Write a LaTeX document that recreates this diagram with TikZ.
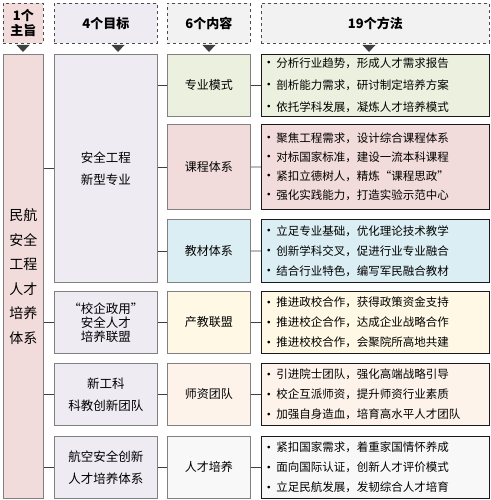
\documentclass[tikz,border=0pt]{standalone}
\usepackage{fontspec}
\setmainfont{Noto Sans CJK SC}
\usepackage{xcolor}
\usepackage{tikz}
\usetikzlibrary{positioning,calc}
\definecolor{pinkbg}{HTML}{F2DCDB}
\definecolor{goalbg}{HTML}{EEEBF2}
\definecolor{greenbg}{HTML}{EBF1DE}
\definecolor{bluebg}{HTML}{DBEEF3}
\definecolor{yellowbg}{HTML}{FEF8E4}
\definecolor{peachbg}{HTML}{FDF3EB}
\definecolor{lightbg}{HTML}{F8F8F8}
\definecolor{headbg}{HTML}{F2F2F2}
\newcommand{\pt}{\makebox[9pt][l]{\hspace{1.5pt}\makebox[0pt][c]{\raisebox{-0.3pt}{\fontsize{13}{13}\selectfont •}}}}

\begin{document}
\begin{tikzpicture}[
    x=1pt, y=-1pt,
    header/.style={rectangle, draw=black!70, dashed, line width=0.7pt,
                   anchor=north west, inner sep=0pt, minimum height=40pt,
                   font=\fontsize{13}{15}\selectfont\bfseries, align=center},
    mainbox/.style={rectangle, draw=black!50, fill=pinkbg, line width=0.8pt,
                    anchor=north west, inner sep=0pt, minimum width=40pt,
                    font=\fontsize{14}{24.5}\selectfont, align=center},
    goal/.style={rectangle, draw=black!50, fill=goalbg, line width=0.8pt,
                 anchor=north west, inner sep=0pt, minimum width=103pt,
                 font=\fontsize{12.5}{22}\selectfont, align=center},
    content/.style={rectangle, draw=black!50, line width=0.8pt,
                    anchor=north west, inner sep=0pt, minimum width=83pt,
                    font=\fontsize{12}{14}\selectfont, align=center},
    method/.style={rectangle, draw=black!90, line width=0.9pt,
                   anchor=north west, inner xsep=6pt, inner ysep=0pt,
                   text width=216pt, align=left,
                   font=\fontsize{11.5}{20}\selectfont},
    link/.style={draw=black!75, line width=0.8pt},
    tip/.style={fill=black!75},
]
    \useasboundingbox (0,0) rectangle (490,500);

    % Headers
    \node[header, fill=pinkbg, minimum width=40pt] (hmain) at (3,3) {1个\\主旨};
    \node[header, fill=goalbg, minimum width=103pt] (hgoal) at (54,3) {4个目标};
    \node[header, fill=headbg, minimum width=83pt] (hcont) at (167,3) {6个内容};
    \node[header, fill=headbg, minimum width=228pt] (hmeth) at (261,3) {19个方法};

    % Header pointers
    \foreach \x in {23,118,209,369}
        \fill[tip] (\x-6.5,45) -- (\x+6.5,45) -- (\x,52) -- cycle;

    % Aim
    \node[mainbox, minimum height=444pt] (main) at (3,54) {民航\\安全\\工程\\人才\\培养\\体系};

    % Goals
    \node[goal, minimum height=228pt] (g1) at (54,54) {安全工程\\新型专业};
    \node[goal, minimum height=62pt, font=\fontsize{12.5}{14}\selectfont] (g2) at (54,291) {“校企政用”\\安全人才\\培养联盟};
    \node[goal, minimum height=62pt] (g3) at (54,363) {新工科\\科教创新团队};
    \node[goal, minimum height=62pt] (g4) at (54,436) {航空安全创新\\人才培养体系};

    % Contents
    \node[content, fill=greenbg, minimum height=62pt] (c1) at (167,54) {专业模式};
    \node[content, fill=pinkbg, minimum height=85pt] (c2) at (167,124) {课程体系};
    \node[content, fill=bluebg, minimum height=63pt] (c3) at (167,219) {教材体系};
    \node[content, fill=yellowbg, minimum height=62pt] (c4) at (167,291) {产教联盟};
    \node[content, fill=peachbg, minimum height=62pt] (c5) at (167,363) {师资团队};
    \node[content, fill=lightbg, minimum height=62pt] (c6) at (167,436) {人才培养};

    % Methods
    \node[method, fill=greenbg, minimum height=62pt] (m1) at (261,54)
        {\pt 分析行业趋势，形成人才需求报告\\[2pt]\pt 剖析能力需求，研讨制定培养方案\\[2pt]\pt 依托学科发展，凝炼人才培养模式};
    \node[method, fill=pinkbg, minimum height=85pt, font=\fontsize{11.5}{19}\selectfont] (m2) at (261,124)
        {\pt 聚焦工程需求，设计综合课程体系\\\pt 对标国家标准，建设一流本科课程\\\pt 紧扣立德树人，精炼“课程思政”\\\pt 强化实践能力，打造实验示范中心};
    \node[method, fill=bluebg, minimum height=63pt] (m3) at (261,219)
        {\pt 立足专业基础，优化理论技术教学\\\pt 创新学科交叉，促进行业专业融合\\\pt 结合行业特色，编写军民融合教材};
    \node[method, fill=yellowbg, minimum height=62pt] (m4) at (261,291)
        {\pt 推进政校合作，获得政策资金支持\\\pt 推进校企合作，达成企业战略合作\\\pt 推进校校合作，会聚院所高地共建};
    \node[method, fill=peachbg, minimum height=62pt] (m5) at (261,363)
        {\pt 引进院士团队，强化高端战略引导\\\pt 校企互派师资，提升师资行业素质\\\pt 加强自身造血，培育高水平人才团队};
    \node[method, fill=lightbg, minimum height=62pt] (m6) at (261,436)
        {\pt 紧扣国家需求，着重家国情怀养成\\\pt 面向国际认证，创新人才评价模式\\\pt 立足民航发展，发韧综合人才培育};

    % Links
    \draw[link] (main.east |- g1.west) -- (g1.west);
    \draw[link] (main.east |- g2.west) -- (g2.west);
    \draw[link] (main.east |- g3.west) -- (g3.west);
    \draw[link] (main.east |- g4.west) -- (g4.west);
    \draw[link] (g1.east |- c1.west) -- (c1.west);
    \draw[link] (g1.east |- c2.west) -- (c2.west);
    \draw[link] (g1.east |- c3.west) -- (c3.west);
    \draw[link] (g2.east) -- (c4.west);
    \draw[link] (g3.east) -- (c5.west);
    \draw[link] (g4.east) -- (c6.west);
    \draw[link] (c1.east) -- (m1.west);
    \draw[link] (c2.east) -- (m2.west);
    \draw[link] (c3.east) -- (m3.west);
    \draw[link] (c4.east) -- (m4.west);
    \draw[link] (c5.east) -- (m5.west);
    \draw[link] (c6.east) -- (m6.west);
\end{tikzpicture}
\end{document}
